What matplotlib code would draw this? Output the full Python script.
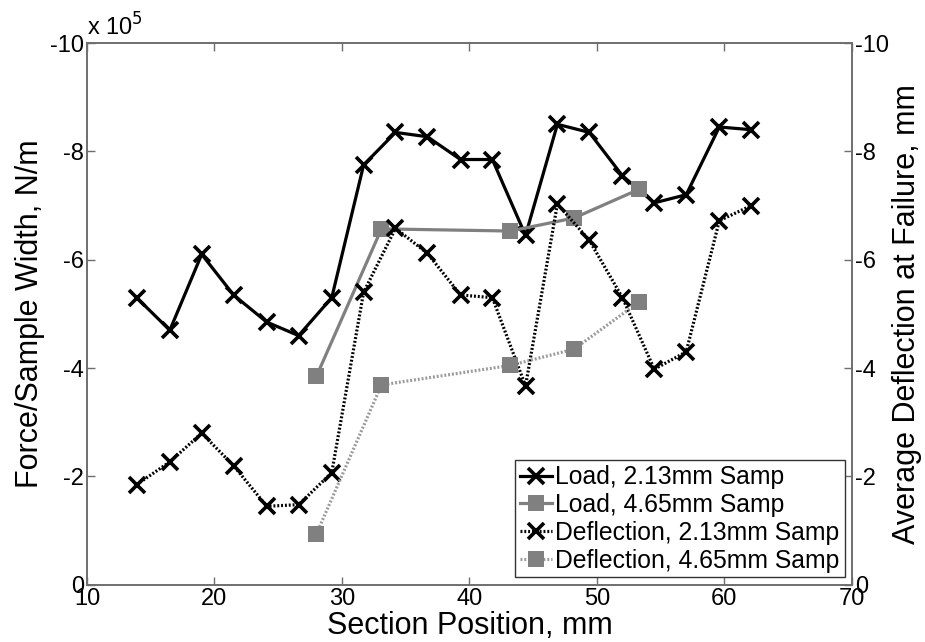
import matplotlib.pyplot as plt

plt.rcParams['font.family'] = ['Liberation Sans', 'DejaVu Sans']
plt.rcParams['axes.unicode_minus'] = False

# section positions, mm
pos_213 = [13.9, 16.5, 19.0, 21.5, 24.1, 26.6, 29.2, 31.7, 34.2, 36.7,
           39.3, 41.8, 44.4, 46.9, 49.4, 52.0, 54.5, 57.0, 59.6, 62.1]
pos_465 = [28.0, 33.1, 43.2, 48.2, 53.3]

# force / sample width, in units of 1e5 N/m
load_213 = [-5.3, -4.7, -6.1, -5.35, -4.85, -4.6, -5.3, -7.75, -8.35, -8.27,
            -7.85, -7.85, -6.45, -8.5, -8.35, -7.55, -7.05, -7.2, -8.45, -8.4]
load_465 = [-3.85, -6.57, -6.53, -6.77, -7.3]

# average deflection at failure, mm
defl_213 = [-1.85, -2.27, -2.8, -2.2, -1.45, -1.48, -2.07, -5.4, -6.58, -6.12,
            -5.35, -5.3, -3.67, -7.03, -6.36, -5.3, -3.98, -4.3, -6.72, -7.0]
defl_465 = [-0.94, -3.69, -4.05, -4.35, -5.22]

gray = '#808080'
spine_c = '#6e6e6e'

fig = plt.figure(figsize=(9.25, 6.42), dpi=100)
ax1 = fig.add_axes([0.094, 0.089, 0.827, 0.844])
ax2 = ax1.twinx()

l1, = ax1.plot(pos_213, load_213, color='black', lw=2.3, marker='x',
               ms=11, mew=2.6, label='Load, 2.13mm Samp')
l2, = ax1.plot(pos_465, load_465, color=gray, lw=2.3, marker='s',
               ms=12, mew=0, label='Load, 4.65mm Samp')
l3, = ax2.plot(pos_213, defl_213, color='black', lw=2.3, ls=(0, (0.6, 0.6)),
               marker='x', ms=11, mew=2.6, label='Deflection, 2.13mm Samp')
l4, = ax2.plot(pos_465, defl_465, color='#9a9a9a', lw=2.3, ls=(0, (0.6, 0.6)),
               marker='s', ms=12, mew=0, mfc=gray,
               label='Deflection, 4.65mm Samp')

ax1.set_xlim(10, 70)
ax1.set_ylim(0, -10)
ax2.set_ylim(0, -10)
ax1.set_xticks(range(10, 71, 10))
ax1.set_yticks(range(0, -11, -2))
ax2.set_yticks(range(0, -11, -2))

for ax in (ax1, ax2):
    for s in ax.spines.values():
        s.set_color(spine_c)
        s.set_linewidth(1.2)
    ax.tick_params(direction='in', length=6, width=1, color=spine_c,
                   labelsize=17, pad=2)
ax1.tick_params(top=True, axis='x')

ax1.set_xlabel('Section Position, mm', fontsize=22)
ax1.set_ylabel('Force/Sample Width, N/m', fontsize=22)
ax2.set_ylabel('Average Deflection at Failure, mm', fontsize=22)
ax1.xaxis.set_label_coords(0.5, -0.048)
ax1.yaxis.set_label_coords(-0.055, 0.5)
ax2.yaxis.set_label_coords(1.052, 0.5)
ax1.text(0.0, 1.005, 'x 10$^5$', transform=ax1.transAxes, fontsize=17,
         ha='left', va='bottom')

leg = ax2.legend(handles=[l1, l2, l3, l4], loc='lower right', fontsize=17.8,
                 handlelength=1.3, handletextpad=0.12, labelspacing=0.15,
                 borderpad=0.2, borderaxespad=0.3, fancybox=False,
                 framealpha=1, edgecolor='#333333')
leg.get_frame().set_linewidth(1.0)

fig.savefig('out.png', dpi=100)
